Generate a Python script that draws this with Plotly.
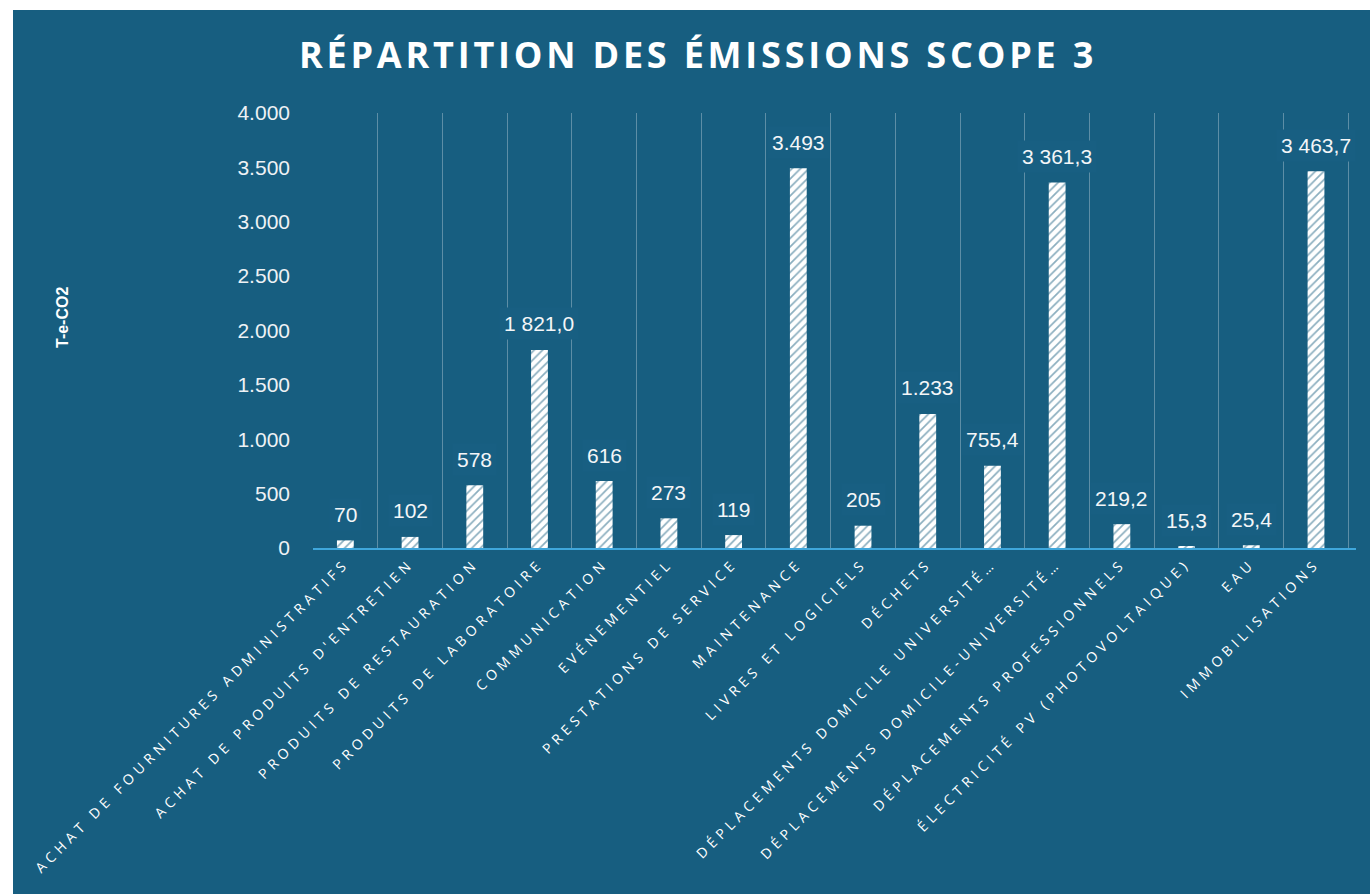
import plotly.graph_objects as go

categories = [
    "ACHAT DE FOURNITURES ADMINISTRATIFS",
    "ACHAT DE PRODUITS D'ENTRETIEN",
    "PRODUITS DE RESTAURATION",
    "PRODUITS DE LABORATOIRE",
    "COMMUNICATION",
    "EVÉNEMENTIEL",
    "PRESTATIONS DE SERVICE",
    "MAINTENANCE",
    "LIVRES ET LOGICIELS",
    "DÉCHETS",
    "DÉPLACEMENTS DOMICILE UNIVERSITÉ…",
    "DÉPLACEMENTS DOMICILE-UNIVERSITÉ…",
    "DÉPLACEMENTS PROFESSIONNELS",
    "ÉLECTRICITÉ PV (PHOTOVOLTAIQUE)",
    "EAU",
    "IMMOBILISATIONS",
]
values = [70, 102, 578, 1821.0, 616, 273, 119, 3493, 205, 1233, 755.4, 3361.3, 219.2, 15.3, 25.4, 3463.7]
value_labels = ["70", "102", "578", "1 821,0", "616", "273", "119", "3.493", "205", "1.233",
                "755,4", "3 361,3", "219,2", "15,3", "25,4", "3 463,7"]
y_ticks = [0, 500, 1000, 1500, 2000, 2500, 3000, 3500, 4000]

BG = "#175e80"
W, H = 1370, 894
L, R, T, B = 313, 14, 113, 346
pw, ph = W - L - R, H - T - B

fig = go.Figure()
fig.add_trace(go.Bar(
    x=categories, y=values, width=0.26,
    marker=dict(color="white", line=dict(width=0),
                pattern=dict(shape="/", fgcolor=BG, bgcolor="white", size=6, solidity=0.28, fillmode="overlay")),
    hoverinfo="skip",
))

annotations = []
for c, v, t in zip(categories, values, value_labels):
    annotations.append(dict(
        x=c, y=v, xref="x", yref="y", text=t, showarrow=False,
        yanchor="middle", yshift=26, borderpad=4,
        bgcolor="#185f82",
        font=dict(family="Liberation Sans, Arial", size=21, color="#f4f6f8"),
    ))
annotations.append(dict(
    x=(62 - L) / pw, y=(H - B - 318) / ph, xref="paper", yref="paper",
    text="<b>T-e-CO2</b>", textangle=-90, showarrow=False,
    xanchor="center", yanchor="middle",
    font=dict(family="Liberation Sans, Arial", size=16, color="white"),
))

fig.update_layout(
    width=W, height=H,
    margin=dict(l=L, r=R, t=T, b=B, autoexpand=False),
    paper_bgcolor="white", plot_bgcolor="rgba(0,0,0,0)",
    separators=",.",
    showlegend=False,
    title=dict(text="<b>RÉPARTITION DES ÉMISSIONS SCOPE 3</b>", x=698 / W, xref="container", xanchor="center",
               y=1 - 55 / H, yref="container", yanchor="middle",
               font=dict(family="Open Sans", size=36, color="white")),
    shapes=[dict(type="rect", xref="paper", yref="paper", layer="below",
                 x0=(13 - L) / pw, x1=(W - L) / pw, y0=-(B) / ph, y1=(H - B - 10) / ph,
                 fillcolor=BG, line=dict(width=0))],
    annotations=annotations,
    xaxis=dict(type="category", tickson="boundaries", showgrid=True, gridcolor="rgba(255,255,255,0.3)",
               gridwidth=1, showline=True, linecolor="#3fa7dc", linewidth=1.5, ticks="",
               tickangle=-45, automargin=False,
               tickfont=dict(family="Open Sans", size=14, color="white")),
    yaxis=dict(range=[0, 4000], tickvals=y_ticks, tickformat=",d", showgrid=False, zeroline=False,
               showline=False, ticks="", ticklabelstandoff=22, automargin=False,
               tickfont=dict(family="Liberation Sans, Arial", size=21, color="#eef2f5")),
    bargap=0.74,
)

post = """
document.body.style.margin='0';
document.querySelectorAll('.xtick text').forEach(function(t){t.style.letterSpacing='4.6px';});
document.querySelectorAll('.gtitle').forEach(function(t){t.style.letterSpacing='3.8px';});
"""
fig.write_html("out.html", post_script=post, config={"displayModeBar": False})
